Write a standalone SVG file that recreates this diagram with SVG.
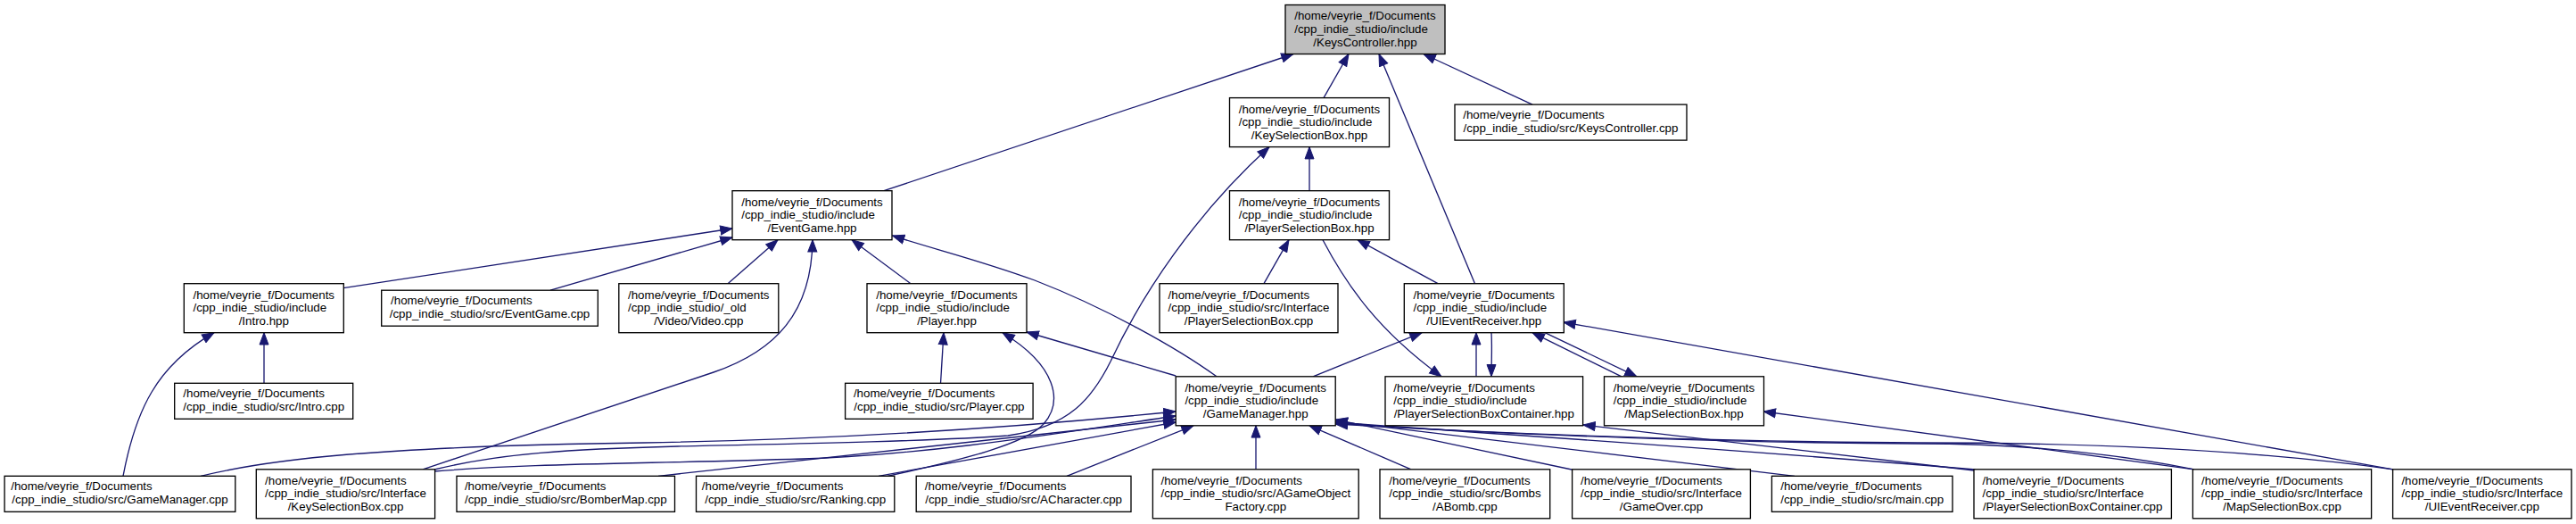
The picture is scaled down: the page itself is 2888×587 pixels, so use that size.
<svg xmlns="http://www.w3.org/2000/svg" width="2888" height="587" viewBox="0 0 2888 587">
<style>
.n rect{fill:#fff;stroke:#000;stroke-width:1.33}
.root rect{fill:#bfbfbf}
text{font-family:"Liberation Sans",Arial,Helvetica,sans-serif;font-size:13.33px;fill:#000}
.m{text-anchor:middle}
#edges path{fill:none;stroke:#191970;stroke-width:1.33;marker-end:url(#ah)}
</style>
<defs>
<marker id="ah" markerUnits="userSpaceOnUse" markerWidth="15" markerHeight="12" viewBox="0 0 15 12" refX="14" refY="6" orient="auto"><path d="M0.7,1 L14,6 L0.7,11 Z" fill="#191970" stroke="#191970" stroke-width="1"/></marker>
</defs>
<rect width="2888" height="587" fill="#fff"/>
<g id="edges">
<path d="M991,213.7 L1450,60.5"/>
<path d="M1484,109.6 L1512,60.5"/>
<path d="M1653.5,317.7 L1546,60.5"/>
<path d="M1718,117.1 L1596,60.5"/>
<path d="M1468,213.7 L1468,164.6"/>
<path d="M487,526 C560,508 640,503 760,500 C900,497 1050,494 1130,488 C1200,478 1225,445 1245,405 C1280,330 1340,240 1423,164.6"/>
<path d="M225,533.3 C300,515 420,500 722,496 C950,492 1150,478 1318,461"/>
<path d="M487,528 C600,519 700,520 900,514 C1050,509 1200,483 1318,466"/>
<path d="M738,533.3 L1318,470"/>
<path d="M985,533.3 L1318,473"/>
<path d="M995,533.3 C1080,515 1150,497 1170,475 C1192,450 1185,410 1124,372.7"/>
<path d="M1196,533.3 L1338,476.8"/>
<path d="M1408,525.8 L1408,476.8"/>
<path d="M1582,525.8 L1468,476.8"/>
<path d="M1762,526 L1497.2,470"/>
<path d="M2012,533.3 L1497.2,472"/>
<path d="M2215,526 C1900,500 1700,488 1497.2,473"/>
<path d="M2460,525.8 C2360,506 2260,497 2150,497 C1950,496 1700,488 1497.2,474"/>
<path d="M2683,525.8 C2520,503 2320,496 2150,496 C1950,495 1700,487 1497.2,475"/>
<path d="M2213,527 L1775,476"/>
<path d="M2460,525.8 L1977.2,461"/>
<path d="M2683,525.8 L1752.9,361"/>
<path d="M1472,421.8 L1594,372.7"/>
<path d="M1655,421.8 L1655,372.7"/>
<path d="M1672,372.7 C1673,390 1672,405 1672,421.8"/>
<path d="M1818,421.8 L1718,372.7"/>
<path d="M1732,372.7 L1835,421.8"/>
<path d="M1483,268.7 C1510,320 1545,370 1616,421.8"/>
<path d="M1612,317.7 L1522,268.7"/>
<path d="M1417,317.7 L1445,268.7"/>
<path d="M385,322.7 L821,256"/>
<path d="M617,325.2 L821,266"/>
<path d="M816,317.7 L872,268.7"/>
<path d="M474,525.8 L800,417 C870,393 910,350 911,268.7"/>
<path d="M1021,317.7 L955,268.7"/>
<path d="M1364,421.8 C1320,390 1240,345 1160,314 C1100,292 1050,280 1000.5,264"/>
<path d="M138,533.3 C152,460 175,410 240,372.7"/>
<path d="M296,429.3 L296,372.7"/>
<path d="M1054.5,429.3 L1058,372.7"/>
<path d="M1318.2,421 L1151,372"/>
</g>
<g id="n_KeysController_hpp" class="n root"><rect x="1441" y="5.5" width="179" height="55"/><text x="1451.2" y="22.4">/home/veyrie_f/Documents</text><text x="1451.2" y="37">/cpp_indie_studio/include</text><text class="m" x="1530.5" y="51.6">/KeysController.hpp</text></g>
<g id="n_KeySelectionBox_hpp" class="n"><rect x="1378.5" y="109.6" width="179" height="55"/><text x="1388.7" y="126.5">/home/veyrie_f/Documents</text><text x="1388.7" y="141.1">/cpp_indie_studio/include</text><text class="m" x="1468" y="155.7">/KeySelectionBox.hpp</text></g>
<g id="n_KeysController_cpp" class="n"><rect x="1631" y="117.1" width="260" height="40"/><text x="1640.2" y="133.1">/home/veyrie_f/Documents</text><text class="m" x="1761" y="148.1">/cpp_indie_studio/src/KeysController.cpp</text></g>
<g id="n_EventGame_hpp" class="n"><rect x="821" y="213.7" width="179" height="55"/><text x="831.2" y="230.6">/home/veyrie_f/Documents</text><text x="831.2" y="245.2">/cpp_indie_studio/include</text><text class="m" x="910.5" y="259.8">/EventGame.hpp</text></g>
<g id="n_PlayerSelectionBox_hpp" class="n"><rect x="1378.5" y="213.7" width="179" height="55"/><text x="1388.7" y="230.6">/home/veyrie_f/Documents</text><text x="1388.7" y="245.2">/cpp_indie_studio/include</text><text class="m" x="1468" y="259.8">/PlayerSelectionBox.hpp</text></g>
<g id="n_Intro_hpp" class="n"><rect x="206.3" y="317.7" width="179" height="55"/><text x="216.5" y="334.6">/home/veyrie_f/Documents</text><text x="216.5" y="349.2">/cpp_indie_studio/include</text><text class="m" x="295.8" y="363.8">/Intro.hpp</text></g>
<g id="n_EventGame_cpp" class="n"><rect x="427.7" y="325.2" width="242.6" height="40"/><text x="438.1" y="341.2">/home/veyrie_f/Documents</text><text class="m" x="549" y="356.2">/cpp_indie_studio/src/EventGame.cpp</text></g>
<g id="n_Video_cpp" class="n"><rect x="693.8" y="317.7" width="179" height="55"/><text x="704" y="334.6">/home/veyrie_f/Documents</text><text x="704" y="349.2">/cpp_indie_studio/_old</text><text class="m" x="783.3" y="363.8">/Video/Video.cpp</text></g>
<g id="n_Player_hpp" class="n"><rect x="972" y="317.7" width="179" height="55"/><text x="982.2" y="334.6">/home/veyrie_f/Documents</text><text x="982.2" y="349.2">/cpp_indie_studio/include</text><text class="m" x="1061.5" y="363.8">/Player.hpp</text></g>
<g id="n_PlayerSelectionBox_cpp" class="n"><rect x="1300" y="317.7" width="200" height="55"/><text x="1309.6" y="334.6">/home/veyrie_f/Documents</text><text x="1309.6" y="349.2">/cpp_indie_studio/src/Interface</text><text class="m" x="1400" y="363.8">/PlayerSelectionBox.cpp</text></g>
<g id="n_UIEventReceiver_hpp" class="n"><rect x="1574.3" y="317.7" width="179" height="55"/><text x="1584.5" y="334.6">/home/veyrie_f/Documents</text><text x="1584.5" y="349.2">/cpp_indie_studio/include</text><text class="m" x="1663.8" y="363.8">/UIEventReceiver.hpp</text></g>
<g id="n_Intro_cpp" class="n"><rect x="195.7" y="429.3" width="200" height="40"/><text x="205.3" y="445.3">/home/veyrie_f/Documents</text><text class="m" x="295.7" y="460.3">/cpp_indie_studio/src/Intro.cpp</text></g>
<g id="n_Player_cpp" class="n"><rect x="947.6" y="429.3" width="210.5" height="40"/><text x="956.9" y="445.3">/home/veyrie_f/Documents</text><text class="m" x="1052.9" y="460.3">/cpp_indie_studio/src/Player.cpp</text></g>
<g id="n_GameManager_hpp" class="n"><rect x="1318.2" y="421.8" width="179" height="55"/><text x="1328.4" y="438.7">/home/veyrie_f/Documents</text><text x="1328.4" y="453.3">/cpp_indie_studio/include</text><text class="m" x="1407.7" y="467.9">/GameManager.hpp</text></g>
<g id="n_PlayerSelectionBoxContainer_hpp" class="n"><rect x="1553" y="421.8" width="221.6" height="55"/><text x="1562.3" y="438.7">/home/veyrie_f/Documents</text><text x="1562.3" y="453.3">/cpp_indie_studio/include</text><text class="m" x="1663.8" y="467.9">/PlayerSelectionBoxContainer.hpp</text></g>
<g id="n_MapSelectionBox_hpp" class="n"><rect x="1798.5" y="421.8" width="179" height="55"/><text x="1808.7" y="438.7">/home/veyrie_f/Documents</text><text x="1808.7" y="453.3">/cpp_indie_studio/include</text><text class="m" x="1888" y="467.9">/MapSelectionBox.hpp</text></g>
<g id="n_GameManager_cpp" class="n"><rect x="5.1" y="533.3" width="258.7" height="40"/><text x="12.2" y="549.3">/home/veyrie_f/Documents</text><text class="m" x="134.5" y="564.3">/cpp_indie_studio/src/GameManager.cpp</text></g>
<g id="n_KeySelectionBox_cpp" class="n"><rect x="287.3" y="525.8" width="200.3" height="55"/><text x="297.1" y="542.7">/home/veyrie_f/Documents</text><text x="297.1" y="557.3">/cpp_indie_studio/src/Interface</text><text class="m" x="387.5" y="571.9">/KeySelectionBox.cpp</text></g>
<g id="n_BomberMap_cpp" class="n"><rect x="512" y="533.3" width="244.5" height="40"/><text x="520.9" y="549.3">/home/veyrie_f/Documents</text><text class="m" x="634.3" y="564.3">/cpp_indie_studio/src/BomberMap.cpp</text></g>
<g id="n_Ranking_cpp" class="n"><rect x="780.5" y="533.3" width="222.3" height="40"/><text x="786.8" y="549.3">/home/veyrie_f/Documents</text><text class="m" x="891.7" y="564.3">/cpp_indie_studio/src/Ranking.cpp</text></g>
<g id="n_ACharacter_cpp" class="n"><rect x="1027.2" y="533.3" width="240.8" height="40"/><text x="1036.8" y="549.3">/home/veyrie_f/Documents</text><text class="m" x="1147.6" y="564.3">/cpp_indie_studio/src/ACharacter.cpp</text></g>
<g id="n_AGameObjectFactory_cpp" class="n"><rect x="1292.4" y="525.8" width="230.8" height="55"/><text x="1301.5" y="542.7">/home/veyrie_f/Documents</text><text x="1301.5" y="557.3">/cpp_indie_studio/src/AGameObject</text><text class="m" x="1407.8" y="571.9">Factory.cpp</text></g>
<g id="n_ABomb_cpp" class="n"><rect x="1547" y="525.8" width="190.7" height="55"/><text x="1557.2" y="542.7">/home/veyrie_f/Documents</text><text x="1557.2" y="557.3">/cpp_indie_studio/src/Bombs</text><text class="m" x="1642.4" y="571.9">/ABomb.cpp</text></g>
<g id="n_GameOver_cpp" class="n"><rect x="1762.6" y="525.8" width="199.8" height="55"/><text x="1772.1" y="542.7">/home/veyrie_f/Documents</text><text x="1772.1" y="557.3">/cpp_indie_studio/src/Interface</text><text class="m" x="1862.5" y="571.9">/GameOver.cpp</text></g>
<g id="n_main_cpp" class="n"><rect x="1986.4" y="533.3" width="202.6" height="40"/><text x="1996.2" y="549.3">/home/veyrie_f/Documents</text><text class="m" x="2087.7" y="564.3">/cpp_indie_studio/src/main.cpp</text></g>
<g id="n_PlayerSelectionBoxContainer_cpp" class="n"><rect x="2213" y="525.8" width="221.4" height="55"/><text x="2222.6" y="542.7">/home/veyrie_f/Documents</text><text x="2222.6" y="557.3">/cpp_indie_studio/src/Interface</text><text class="m" x="2323.7" y="571.9">/PlayerSelectionBoxContainer.cpp</text></g>
<g id="n_MapSelectionBox_cpp" class="n"><rect x="2458.4" y="525.8" width="200.2" height="55"/><text x="2468.1" y="542.7">/home/veyrie_f/Documents</text><text x="2468.1" y="557.3">/cpp_indie_studio/src/Interface</text><text class="m" x="2558.5" y="571.9">/MapSelectionBox.cpp</text></g>
<g id="n_UIEventReceiver_cpp" class="n"><rect x="2682.6" y="525.8" width="200.3" height="55"/><text x="2692.4" y="542.7">/home/veyrie_f/Documents</text><text x="2692.4" y="557.3">/cpp_indie_studio/src/Interface</text><text class="m" x="2782.8" y="571.9">/UIEventReceiver.cpp</text></g>
</svg>
